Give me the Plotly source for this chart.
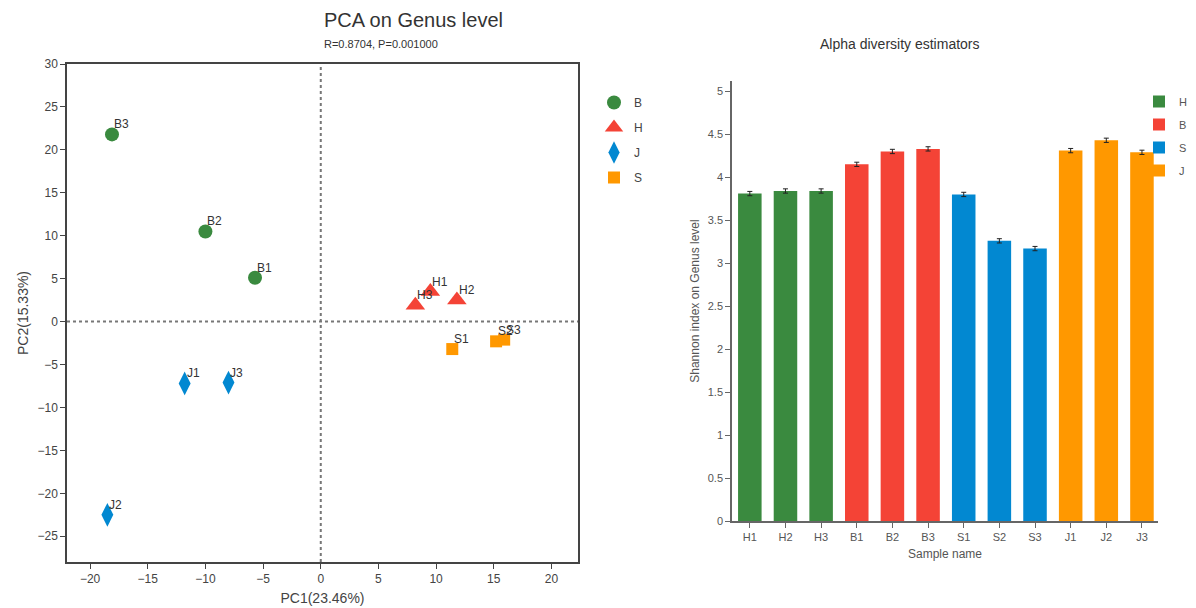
import plotly.graph_objects as go

# ---------------- PCA data ----------------
pca_groups = ["B", "H", "J", "S"]
pca_labels = {
    "B": ["B1", "B2", "B3"],
    "H": ["H1", "H2", "H3"],
    "J": ["J1", "J2", "J3"],
    "S": ["S1", "S2", "S3"],
}
pca_pc1 = {
    "B": [-5.7, -10.0, -18.1],
    "H": [9.5, 11.8, 8.2],
    "J": [-11.8, -18.5, -8.0],
    "S": [11.4, 15.2, 15.9],
}
pca_pc2 = {
    "B": [5.1, 10.5, 21.8],
    "H": [3.5, 2.5, 1.9],
    "J": [-7.2, -22.5, -7.1],
    "S": [-3.2, -2.3, -2.1],
}
pca_symbols = {"B": "circle", "H": "triangle-up", "J": "diamond-tall", "S": "square"}
pca_sizes = {"B": 14, "H": 17, "J": 17, "S": 12}

# ---------------- Alpha diversity data ----------------
alpha_groups = ["H", "B", "S", "J"]
alpha_samples = {
    "H": ["H1", "H2", "H3"],
    "B": ["B1", "B2", "B3"],
    "S": ["S1", "S2", "S3"],
    "J": ["J1", "J2", "J3"],
}
alpha_values = {
    "H": [3.81, 3.84, 3.84],
    "B": [4.15, 4.30, 4.33],
    "S": [3.80, 3.26, 3.17],
    "J": [4.31, 4.43, 4.29],
}
alpha_err = {
    "H": [0.025, 0.025, 0.025],
    "B": [0.025, 0.025, 0.025],
    "S": [0.025, 0.025, 0.025],
    "J": [0.025, 0.025, 0.025],
}
sample_order = ["H1", "H2", "H3", "B1", "B2", "B3", "S1", "S2", "S3", "J1", "J2", "J3"]

colors = {"B": "#3a8a3f", "H": "#f44336", "J": "#0288d1", "S": "#ff9800"}
alpha_colors = {"H": "#3a8a3f", "B": "#f44336", "S": "#0288d1", "J": "#ff9800"}

# page body has an 8px margin, so the figure is drawn 8px in from the corner
OFF = 8
W, H = 1196 - OFF, 608 - OFF
def px(x):
    return (x - OFF) / W
def py(y):
    return 1 - (y - OFF) / H

FONT = "Liberation Sans, Arial, sans-serif"

fig = go.Figure()

point_annotations = []
for g in pca_groups:
    fig.add_trace(go.Scatter(
        x=pca_pc1[g], y=pca_pc2[g], mode="markers",
        marker=dict(symbol=pca_symbols[g], size=pca_sizes[g], color=colors[g],
                    line=dict(width=0)),
        name=g, legend="legend", legendgroup="p" + g,
        xaxis="x", yaxis="y", cliponaxis=False,
    ))
    for xv, yv, lab in zip(pca_pc1[g], pca_pc2[g], pca_labels[g]):
        point_annotations.append(dict(
            x=xv, y=yv, xref="x", yref="y", text=lab, showarrow=False,
            xanchor="left", yanchor="bottom", xshift=0, yshift=1,
            font=dict(size=12, color="#333333"),
        ))

for g in alpha_groups:
    fig.add_trace(go.Bar(
        x=alpha_samples[g], y=alpha_values[g],
        error_y=dict(type="data", array=alpha_err[g], color="#222222",
                     thickness=1, width=2.5),
        marker=dict(color=alpha_colors[g], line=dict(width=0)),
        width=0.66, name=g, legend="legend2", legendgroup="a" + g,
        xaxis="x2", yaxis="y2",
    ))

axis_font = dict(size=12, color="#444444", family=FONT)

fig.update_layout(
    width=W, height=H,
    margin=dict(l=0, r=0, t=0, b=0, autoexpand=False),
    paper_bgcolor="white", plot_bgcolor="white",
    font=dict(family=FONT, color="#333333"),
    barmode="overlay",
    xaxis=dict(
        domain=[px(67), px(578)], anchor="y", automargin=False,
        range=[-22, 22.3], tickvals=[-20, -15, -10, -5, 0, 5, 10, 15, 20],
        showgrid=False, zeroline=False,
        showline=True, linecolor="#444444", linewidth=1.5, mirror=True,
        ticks="outside", ticklen=5, tickcolor="#444444",
        tickfont=axis_font,
        title=dict(text="PC1(23.46%)", font=dict(size=14, color="#444444"), standoff=8),
    ),
    yaxis=dict(
        domain=[py(562), py(64)], anchor="x", automargin=False,
        range=[-28.0, 30], tickvals=[-25, -20, -15, -10, -5, 0, 5, 10, 15, 20, 25, 30],
        showgrid=False, zeroline=False,
        showline=True, linecolor="#444444", linewidth=1.5, mirror=True,
        ticks="outside", ticklen=5, tickcolor="#444444",
        tickfont=axis_font,
        title=dict(text="PC2(15.33%)", font=dict(size=14, color="#444444"), standoff=6),
    ),
    xaxis2=dict(
        domain=[px(732), px(1158)], anchor="y2", automargin=False,
        type="category", categoryorder="array", categoryarray=sample_order,
        range=[-0.5, 11.45],
        showgrid=False, zeroline=False,
        showline=True, linecolor="#666666", linewidth=1.5,
        ticks="outside", ticklen=5, tickcolor="#666666",
        tickfont=dict(size=11, color="#555555"),
        title=dict(text="Sample name", font=dict(size=12, color="#555555"), standoff=8),
    ),
    yaxis2=dict(
        domain=[py(521), py(81)], anchor="x2", automargin=False,
        range=[0, 5.12], tickvals=[0, 0.5, 1, 1.5, 2, 2.5, 3, 3.5, 4, 4.5, 5],
        ticktext=["0", "0.5", "1", "1.5", "2", "2.5", "3", "3.5", "4", "4.5", "5"],
        showgrid=False, zeroline=False,
        showline=True, linecolor="#666666", linewidth=1.5,
        ticks="outside", ticklen=5, tickcolor="#666666",
        tickfont=dict(size=11, color="#555555"),
        title=dict(text="Shannon index on Genus level", font=dict(size=12, color="#555555"), standoff=6),
    ),
    legend=dict(
        x=px(594), y=py(88), xanchor="left", yanchor="top",
        font=dict(size=12, color="#444444"), tracegroupgap=6,
        bgcolor="rgba(0,0,0,0)",
    ),
    legend2=dict(
        x=px(1192), y=py(87), xanchor="right", yanchor="top",
        font=dict(size=11, color="#555555"), tracegroupgap=4,
        bgcolor="rgba(0,0,0,0)", itemwidth=30,
    ),
    showlegend=True,
    shapes=[
        dict(type="line", xref="x", yref="paper", x0=0, x1=0,
             y0=py(562), y1=py(64), line=dict(color="#777777", width=2, dash="dot")),
        dict(type="line", xref="paper", yref="y", x0=px(67), x1=px(578),
             y0=0, y1=0, line=dict(color="#777777", width=2, dash="dot")),
    ],
    annotations=point_annotations + [
        dict(text="PCA on Genus level", x=px(322), y=py(20), xref="paper", yref="paper",
             yanchor="middle", showarrow=False, font=dict(size=20, color="#333333")),
        dict(text="R=0.8704, P=0.001000", x=px(322), y=py(44), xref="paper", yref="paper",
             yanchor="middle", showarrow=False, font=dict(size=11, color="#333333")),
        dict(text="Alpha diversity estimators", x=px(982), y=py(44), xref="paper", yref="paper",
             yanchor="middle", showarrow=False, font=dict(size=14, color="#333333")),
    ],
)

fig.write_html("out.html")
